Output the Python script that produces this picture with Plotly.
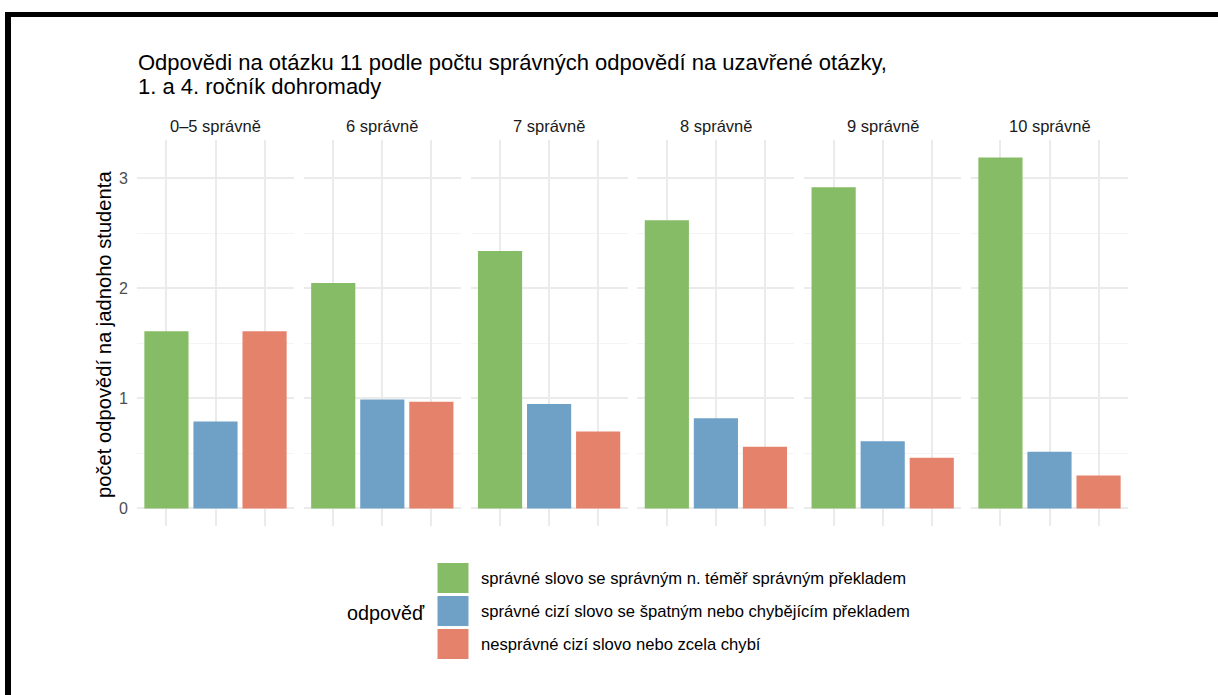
import plotly.graph_objects as go

# ---- data ----
panels = ["0–5 správně", "6 správně", "7 správně", "8 správně", "9 správně", "10 správně"]
series = [
    "správné slovo se správným n. téměř správným překladem",
    "správné cizí slovo se špatným nebo chybějícím překladem",
    "nesprávné cizí slovo nebo zcela chybí",
]
correct_good = [1.61, 2.05, 2.34, 2.62, 2.92, 3.19]
foreign_bad = [0.79, 0.99, 0.95, 0.82, 0.61, 0.515]
wrong_missing = [1.61, 0.97, 0.70, 0.56, 0.46, 0.30]
colors = ["#85BC65", "#6FA1C7", "#E5826B"]
y_ticks = [0, 1, 2, 3]

values = [correct_good, foreign_bad, wrong_missing]

W, H = 1218, 695
def px(x):
    return x / W
def py(y):
    return 1 - y / H

panel_left, panel_w, panel_gap = 137, 157, 9.8
plot_top, plot_bot = 140, 526

ymax = max(max(v) for v in values)
yrange = [-0.05 * ymax, 1.05 * ymax]

FONT = "Liberation Sans"
fig = go.Figure()
layout_axes = {}
keys = ["a", "b", "c"]
for i, pname in enumerate(panels):
    n = "" if i == 0 else str(i + 1)
    fig.add_trace(go.Bar(
        x=keys,
        y=[values[j][i] for j in range(3)],
        marker=dict(color=colors, line=dict(width=0)),
        width=0.9,
        showlegend=False,
        xaxis="x" + n, yaxis="y" + n,
        hovertext=series,
    ))
    x0 = panel_left + i * (panel_w + panel_gap)
    layout_axes["xaxis" + n] = dict(
        domain=[px(x0), px(x0 + panel_w)],
        anchor="y" + n,
        type="category",
        range=[-0.6, 2.6],
        showgrid=True, gridcolor="#ebebeb", gridwidth=2.2,
        showticklabels=False, zeroline=False, showline=False, ticks="",
    )
    layout_axes["yaxis" + n] = dict(
        domain=[py(plot_bot), py(plot_top)],
        anchor="x" + n,
        range=yrange,
        tickvals=y_ticks,
        showgrid=True, gridcolor="#ebebeb", gridwidth=2.2,
        minor=dict(dtick=0.5, showgrid=True, gridcolor="#f4f4f4", gridwidth=1.2),
        zeroline=False, showline=False,
        showticklabels=(i == 0),
        ticks="",
        ticklabelstandoff=8,
        tickfont=dict(family=FONT, size=16, color="#4d4d4d"),
    )
    fig.add_annotation(
        text=pname, xref="paper", yref="paper",
        x=px(x0 + panel_w / 2), y=py(126), xanchor="center", yanchor="middle",
        showarrow=False, font=dict(family=FONT, size=16.5, color="#1a1a1a"),
    )

# title
fig.add_annotation(
    text="Odpovědi na otázku 11 podle počtu správných odpovědí na uzavřené otázky,",
    xref="paper", yref="paper", x=px(136), y=py(62), xanchor="left", yanchor="middle",
    showarrow=False, font=dict(family=FONT, size=22, color="#000"),
)
fig.add_annotation(
    text="1. a 4. ročník dohromady",
    xref="paper", yref="paper", x=px(136), y=py(87), xanchor="left", yanchor="middle",
    showarrow=False, font=dict(family=FONT, size=22, color="#000"),
)
# y-axis title
fig.add_annotation(
    text="počet odpovědí na jadnoho studenta",
    xref="paper", yref="paper", x=px(104), y=py(335), xanchor="center", yanchor="middle",
    textangle=-90, showarrow=False, font=dict(family=FONT, size=20.2, color="#000"),
)

# legend (manual)
fig.add_annotation(
    text="odpověď", xref="paper", yref="paper", x=px(345), y=py(613),
    xanchor="left", yanchor="middle", showarrow=False,
    font=dict(family=FONT, size=19.8, color="#000"),
)
shapes = []
key_tops = [563, 596, 629]
for j in range(3):
    shapes.append(dict(type="rect", xref="paper", yref="paper",
                       x0=px(437.5), x1=px(468.5), y0=py(key_tops[j]), y1=py(key_tops[j] + 30),
                       fillcolor=colors[j], line=dict(width=0)))
    fig.add_annotation(
        text=series[j], xref="paper", yref="paper", x=px(479), y=py(key_tops[j] + 15),
        xanchor="left", yanchor="middle", showarrow=False,
        font=dict(family=FONT, size=16.6, color="#000"),
    )

# black frame (top and left edges)
shapes.append(dict(type="rect", xref="paper", yref="paper",
                   x0=px(5), x1=px(W), y0=py(17), y1=py(12),
                   fillcolor="#000", line=dict(width=0), layer="above"))
shapes.append(dict(type="rect", xref="paper", yref="paper",
                   x0=px(5), x1=px(11), y0=py(H), y1=py(12),
                   fillcolor="#000", line=dict(width=0), layer="above"))

fig.update_layout(
    width=W, height=H, autosize=False,
    margin=dict(l=0, r=0, t=0, b=0),
    paper_bgcolor="white", plot_bgcolor="white",
    bargap=0.1,
    shapes=shapes,
    **layout_axes,
)

fig.write_html(
    "out.html",
    config={"displayModeBar": False},
    post_script="document.body.style.margin='0';document.body.style.overflow='hidden';",
)
